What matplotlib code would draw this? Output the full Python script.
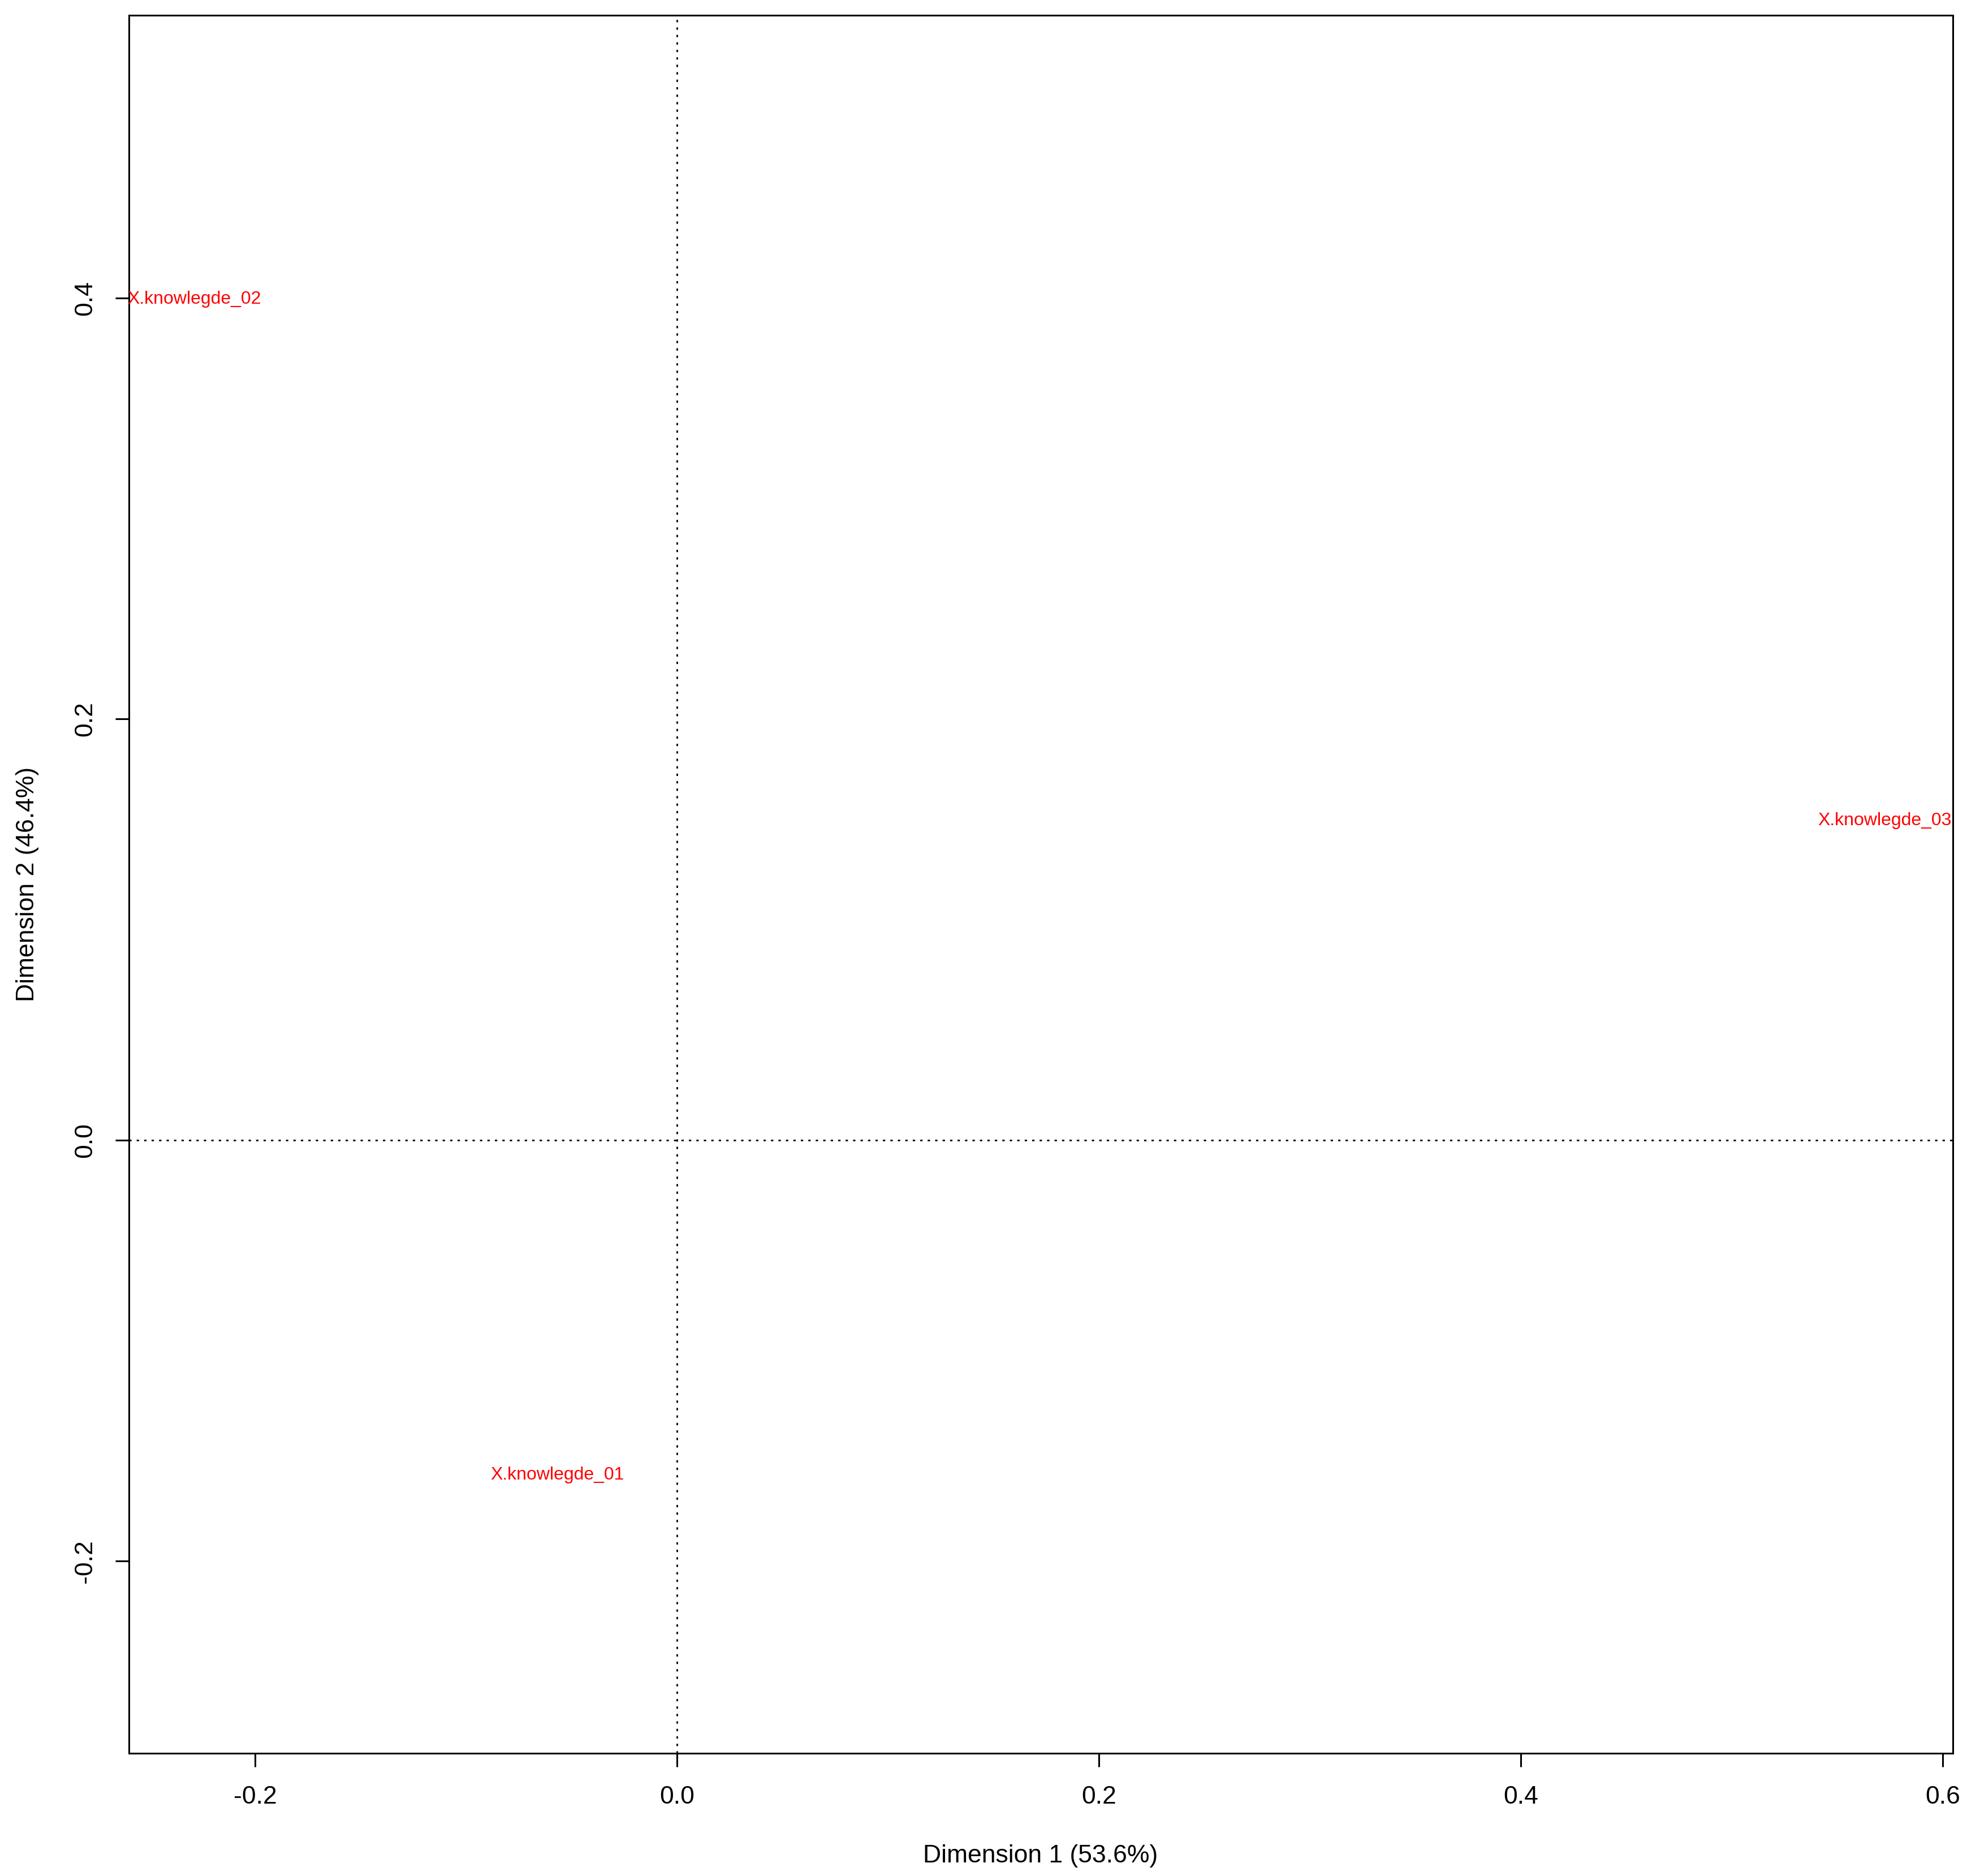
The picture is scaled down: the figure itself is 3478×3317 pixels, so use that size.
import matplotlib
matplotlib.use("Agg")
import matplotlib.pyplot as plt
import matplotlib.transforms as mtransforms

plt.rcParams['font.family'] = ['Liberation Sans', 'DejaVu Sans']
plt.rcParams['lines.scale_dashes'] = False

# Data
labels = ["X.knowlegde_01", "X.knowlegde_02", "X.knowlegde_03"]
dim1 = [-0.0566, -0.2288, 0.5724]
dim2 = [-0.1581, 0.4003, 0.1527]
xticks = [-0.2, 0.0, 0.2, 0.4, 0.6]
yticks = [-0.2, 0.0, 0.2, 0.4]
xlabel = "Dimension 1 (53.6%)"
ylabel = "Dimension 2 (46.4%)"

W, H = 3478, 3317
dpi = 100
fig = plt.figure(figsize=(W / dpi, H / dpi), dpi=dpi)
left, right, top, bottom = 228, 3453, 27, 3100
ax = fig.add_axes([left / W, 1 - bottom / H, (right - left) / W, (bottom - top) / H])

ax.set_xlim(-0.2598, 0.6048)
ax.set_ylim(-0.2912, 0.5343)

dash = (0, (3.0, 6.5))
ax.axhline(0, color='black', lw=2.0, linestyle=dash, zorder=1)
ax.axvline(0, color='black', lw=2.0, linestyle=dash, zorder=1)

off = mtransforms.offset_copy(ax.transData, fig=fig, x=0, y=-11.5 * 72 / dpi, units='points')
for lab, x, y in zip(labels, dim1, dim2):
    ax.text(x, y, lab, color='red', fontsize=23, ha='center', va='baseline',
            transform=off, zorder=3, clip_on=False)

ax.set_xticks(xticks)
ax.set_xticklabels([f"{t:.1f}" for t in xticks])
ax.set_yticks(yticks)
ax.set_yticklabels([f"{t:.1f}" for t in yticks], rotation=90, va='center')

for s in ax.spines.values():
    s.set_linewidth(2.2)
    s.set_color('black')
ax.tick_params(axis='both', length=17, width=2.2, labelsize=32, pad=24, color='black')

fig.text(1840 / W, 1 - 3282 / H, xlabel, ha='center', va='center', fontsize=32)
fig.text(49 / W, 1 - 1563 / H, ylabel, ha='center', va='center', fontsize=32, rotation=90)

fig.savefig("out.png", dpi=dpi, facecolor='white')
